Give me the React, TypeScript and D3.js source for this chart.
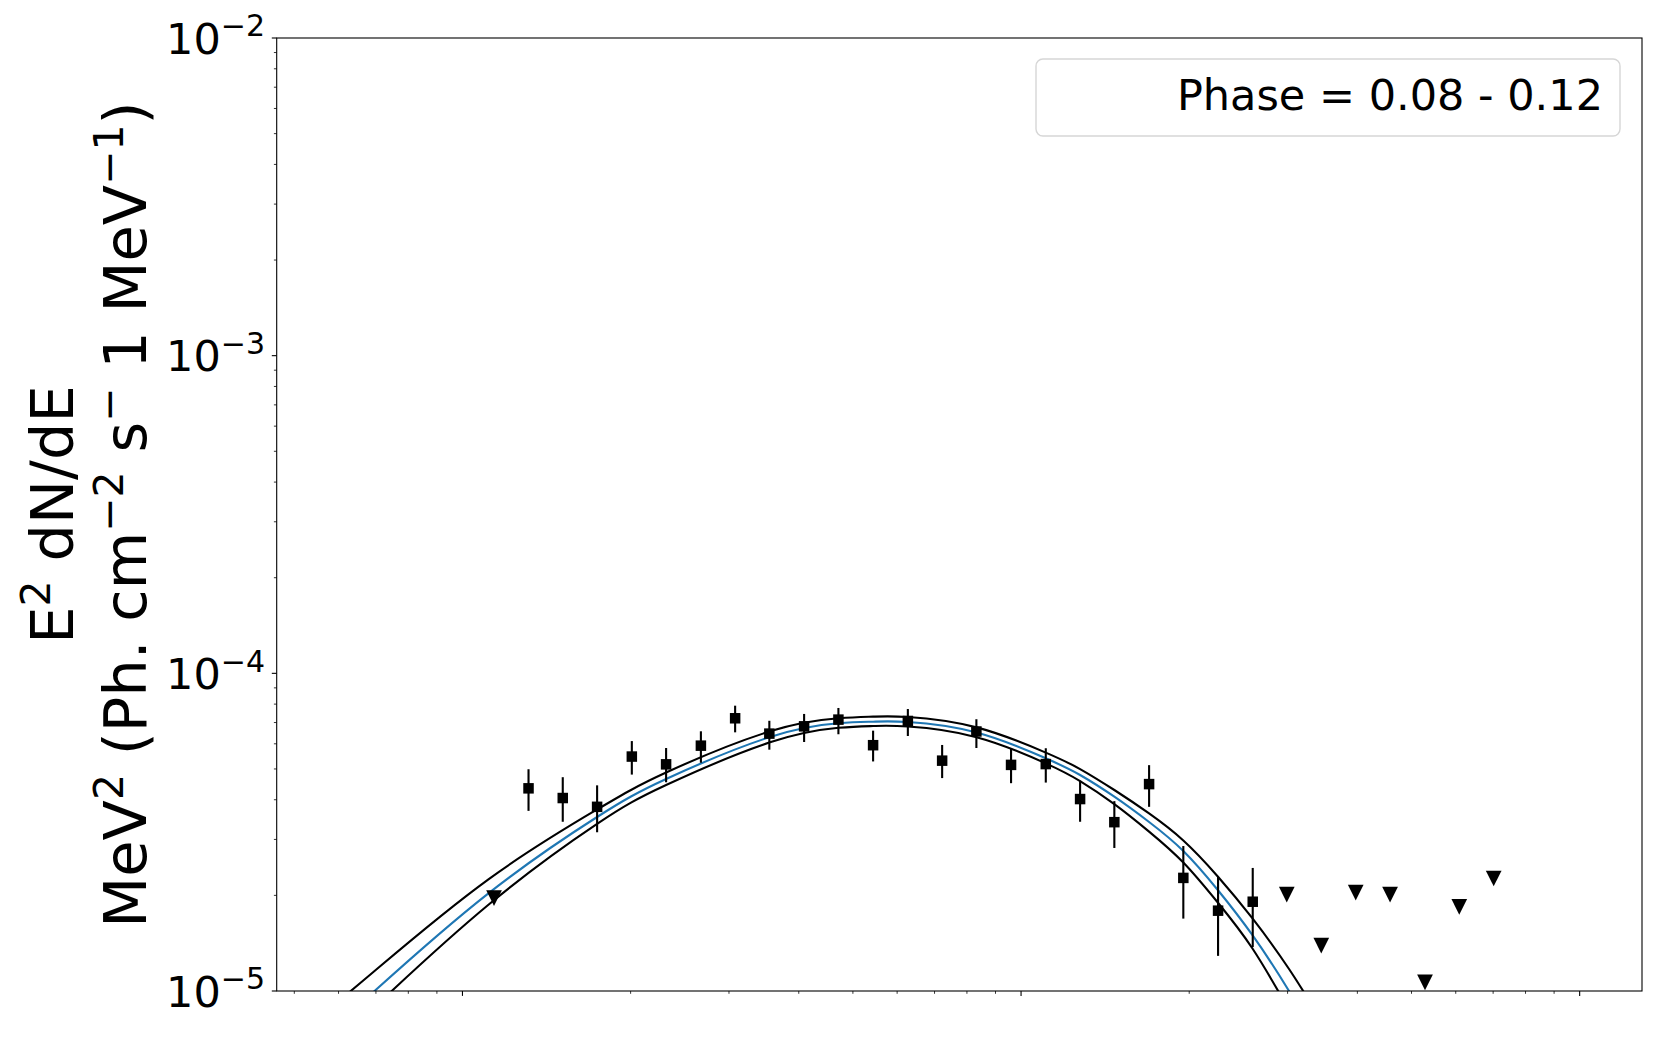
import React from 'react';
import * as d3 from 'd3';

const W = 1661;
const H = 1038;
const PLOT = { left: 276.7, top: 38, right: 1642, bottom: 991 };
const FONT = '"DejaVu Sans", sans-serif';

// Energy domain (MeV) and flux domain
const xDomain = [46.5, 12930];
const yDomain = [1e-5, 1e-2];
const xMajorTicks = [100, 1000, 10000];
const yTickExps = [-2, -3, -4, -5];

// Spectral points (E in MeV, E^2 dN/dE)
const energies = [131.3, 151.2, 174.2, 201.0, 231.5, 267.2, 307.7, 354.3, 408.9, 471.0, 543.4, 627.1, 722.3, 831.8, 959.6, 1107.3, 1275.5, 1468.9, 1695.1, 1952.0, 2252.6, 2598.6];
const flux = [4.345e-5, 4.05e-5, 3.80e-5, 5.47e-5, 5.17e-5, 5.92e-5, 7.22e-5, 6.46e-5, 6.81e-5, 7.15e-5, 5.94e-5, 7.08e-5, 5.31e-5, 6.56e-5, 5.15e-5, 5.18e-5, 4.02e-5, 3.40e-5, 4.48e-5, 2.27e-5, 1.79e-5, 1.91e-5];
const fluxHi = [4.99e-5, 4.71e-5, 4.44e-5, 6.12e-5, 5.82e-5, 6.57e-5, 7.91e-5, 7.09e-5, 7.45e-5, 7.78e-5, 6.60e-5, 7.72e-5, 5.95e-5, 7.17e-5, 5.81e-5, 5.81e-5, 4.59e-5, 3.96e-5, 5.14e-5, 2.86e-5, 2.29e-5, 2.44e-5];
const fluxLo = [3.69e-5, 3.41e-5, 3.16e-5, 4.80e-5, 4.54e-5, 5.23e-5, 6.52e-5, 5.75e-5, 6.08e-5, 6.43e-5, 5.28e-5, 6.35e-5, 4.68e-5, 5.82e-5, 4.51e-5, 4.53e-5, 3.41e-5, 2.82e-5, 3.80e-5, 1.69e-5, 1.29e-5, 1.375e-5];

// Upper limits
const ulEnergies = [113.9, 2990, 3447, 3973, 4577, 5286, 6088, 7016];
const ulFlux = [1.96e-5, 2.01e-5, 1.39e-5, 2.04e-5, 2.01e-5, 1.065e-5, 1.84e-5, 2.26e-5];

// Model curve and its band
const modelE = [55, 69.6, 111.3, 174.2, 231.5, 355.3, 471.4, 543.4, 627.1, 832.4, 1107.3, 1275.5, 1468.9, 1695, 1952, 2250, 2594, 3018, 3500];
const modelF = [6.87e-6, 1.0e-5, 2.03e-5, 3.53e-5, 4.649e-5, 6.303e-5, 6.962e-5, 7.044e-5, 7.028e-5, 6.512e-5, 5.402e-5, 4.786e-5, 4.089e-5, 3.404e-5, 2.759e-5, 2.08e-5, 1.501e-5, 1.0e-5, 6.41e-6];
const modelUp = [8.18e-6, 1.156e-5, 2.247e-5, 3.728e-5, 4.872e-5, 6.568e-5, 7.22e-5, 7.305e-5, 7.288e-5, 6.759e-5, 5.629e-5, 4.997e-5, 4.293e-5, 3.622e-5, 2.977e-5, 2.294e-5, 1.695e-5, 1.173e-5, 7.74e-6];
const modelLo = [6.03e-6, 0.89e-5, 1.868e-5, 3.357e-5, 4.449e-5, 6.063e-5, 6.739e-5, 6.826e-5, 6.803e-5, 6.297e-5, 5.208e-5, 4.58e-5, 3.876e-5, 3.176e-5, 2.538e-5, 1.899e-5, 1.363e-5, 0.871e-5, 5.47e-6];

const legendLabel = 'Phase = 0.08 - 0.12';

export default function App() {
  const x = d3.scaleLog().domain(xDomain).range([PLOT.left, PLOT.right]);
  const y = d3.scaleLog().domain(yDomain).range([PLOT.bottom, PLOT.top]);

  const xMinor: number[] = [];
  for (let d = 1; d <= 4; d++) {
    for (let k = 2; k <= 9; k++) {
      const v = k * Math.pow(10, d);
      if (v > xDomain[0] && v < xDomain[1]) xMinor.push(v);
    }
  }
  const yMinor: number[] = [];
  for (let d = -5; d <= -3; d++) {
    for (let k = 2; k <= 9; k++) yMinor.push(k * Math.pow(10, d));
  }

  const line = (vals: number[]) =>
    d3
      .line<number>()
      .x((_, i) => x(modelE[i]))
      .y((v) => y(v))
      .curve(d3.curveNatural)(vals) as string;

  const sq = 10.5;
  const tri = 15.7;

  return (
    <svg
      width={W}
      height={H}
      style={{ position: 'absolute', left: 0, top: 0, display: 'block', background: '#fff' }}
      fontFamily={FONT}
    >
      <defs>
        <clipPath id="plotclip">
          <rect x={PLOT.left} y={PLOT.top} width={PLOT.right - PLOT.left} height={PLOT.bottom - PLOT.top} />
        </clipPath>
      </defs>
      <rect x={0} y={0} width={W} height={H} fill="#fff" />

      {/* model curves */}
      <g clipPath="url(#plotclip)" fill="none">
        <path d={line(modelUp)} stroke="#000" strokeWidth={2.1} />
        <path d={line(modelLo)} stroke="#000" strokeWidth={2.1} />
        <path d={line(modelF)} stroke="#1f77b4" strokeWidth={2.1} />
      </g>

      {/* data points */}
      <g clipPath="url(#plotclip)">
        {energies.map((e, i) => (
          <g key={'p' + i}>
            <line x1={x(e)} x2={x(e)} y1={y(fluxHi[i])} y2={y(fluxLo[i])} stroke="#000" strokeWidth={2.1} />
            <rect x={x(e) - sq / 2} y={y(flux[i]) - sq / 2} width={sq} height={sq} fill="#000" />
          </g>
        ))}
        {ulEnergies.map((e, i) => {
          const cx = x(e);
          const cy = y(ulFlux[i]);
          const h = tri / 2;
          return (
            <path
              key={'u' + i}
              d={`M${cx - h},${cy - h}L${cx + h},${cy - h}L${cx},${cy + h}Z`}
              fill="#000"
            />
          );
        })}
      </g>

      {/* frame */}
      <rect
        x={PLOT.left}
        y={PLOT.top}
        width={PLOT.right - PLOT.left}
        height={PLOT.bottom - PLOT.top}
        fill="none"
        stroke="#000"
        strokeWidth={1.1}
      />

      {/* x ticks */}
      {xMajorTicks.map((t) => (
        <line key={'xM' + t} x1={x(t)} x2={x(t)} y1={PLOT.bottom} y2={PLOT.bottom + 4.9} stroke="#000" strokeWidth={1.1} />
      ))}
      {xMinor.map((t) => (
        <line key={'xm' + t} x1={x(t)} x2={x(t)} y1={PLOT.bottom} y2={PLOT.bottom + 2.8} stroke="#000" strokeWidth={0.8} />
      ))}

      {/* y ticks */}
      {yTickExps.map((p) => {
        const v = Math.pow(10, p);
        const yy = y(v);
        return (
          <g key={'yM' + p}>
            <line x1={PLOT.left - 4.9} x2={PLOT.left} y1={yy} y2={yy} stroke="#000" strokeWidth={1.1} />
            <text x={265} y={yy + 15.7} textAnchor="end" fontSize={43} fill="#000">
              <tspan>10</tspan>
              <tspan dy={-17.5} fontSize={30}>{'\u2212' + Math.abs(p)}</tspan>
            </text>
          </g>
        );
      })}
      {yMinor.map((t) => (
        <line key={'ym' + t} x1={PLOT.left - 2.8} x2={PLOT.left} y1={y(t)} y2={y(t)} stroke="#000" strokeWidth={0.8} />
      ))}

      {/* y label */}
      <text
        transform={`translate(73, ${(PLOT.top + PLOT.bottom) / 2}) rotate(-90)`}
        textAnchor="middle"
        fontSize={59}
        fill="#000"
        style={{ whiteSpace: 'pre' }}
      >
        <tspan>E</tspan>
        <tspan dy={-23} fontSize={41}>2</tspan>
        <tspan dy={23}>{' dN/dE'}</tspan>
      </text>
      <text
        transform={`translate(146, ${(PLOT.top + PLOT.bottom) / 2}) rotate(-90)`}
        textAnchor="middle"
        fontSize={59}
        fill="#000"
        style={{ whiteSpace: 'pre' }}
      >
        <tspan>MeV</tspan>
        <tspan dy={-23} fontSize={41}>2</tspan>
        <tspan dy={23}>{' (Ph. cm'}</tspan>
        <tspan dy={-23} fontSize={41}>{'\u22122'}</tspan>
        <tspan dy={23}>{' s'}</tspan>
        <tspan dy={-23} fontSize={41}>{'\u2212'}</tspan>
        <tspan dy={23}>{' 1 MeV'}</tspan>
        <tspan dy={-23} fontSize={41}>{'\u22121'}</tspan>
        <tspan dy={23}>{')'}</tspan>
      </text>

      {/* legend */}
      <rect
        x={1036}
        y={59}
        width={584}
        height={77}
        rx={7}
        fill="#fff"
        fillOpacity={0.8}
        stroke="#cccccc"
        strokeOpacity={0.8}
        strokeWidth={1.4}
      />
      <text x={1603} y={110} textAnchor="end" fontSize={43} fill="#000">
        {legendLabel}
      </text>
    </svg>
  );
}
